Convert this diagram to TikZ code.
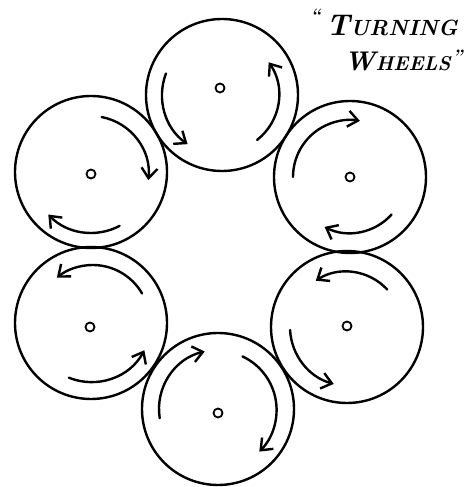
\documentclass[tikz,border=0pt]{standalone}
\usetikzlibrary{arrows.meta}
\begin{document}
\begin{tikzpicture}[x=1pt,y=1pt,
  wheel/.style={circle, draw, line width=2.4pt, minimum size=152pt, inner sep=0pt},
  hub/.style={circle, draw, line width=1.8pt, minimum size=9pt, inner sep=0pt},
  turn/.style={line width=2.4pt, line cap=round, -{Straight Barb[length=10pt,width=16pt,line width=2.4pt]}},
  lettering/.style={font=\bfseries\itshape, anchor=base west, inner sep=0pt}]
\useasboundingbox (0,0) rectangle (465,487);
% wheels
\node[wheel] (top) at (222,392) {};
\node[wheel] (ul)  at (91,315) {};
\node[wheel] (ur)  at (350,310) {};
\node[wheel] (ll)  at (91,164) {};
\node[wheel] (lr)  at (347,160) {};
\node[wheel] (bot) at (218,78) {};
% hubs
\node[hub] (htop) at (220,399) {};
\node[hub] (hul)  at (91,313) {};
\node[hub] (hur)  at (350,310) {};
\node[hub] (hll)  at (90,160) {};
\node[hub] (hlr)  at (347,161) {};
\node[hub] (hbot) at (218,74) {};
% rotation arrows
\draw[turn] ([shift={(159:60)}]top.center) arc[start angle=159, end angle=235, radius=60];
\draw[turn] ([shift={(-52:57)}]top.center) arc[start angle=-52, end angle=35, radius=57];
\draw[turn] ([shift={(180:57)}]ur.center) arc[start angle=180, end angle=80, radius=57];
\draw[turn] ([shift={(-42:56)}]ur.center) arc[start angle=-42, end angle=-117, radius=56];
\draw[turn] ([shift={(79:56)}]ul.center) arc[start angle=79, end angle=-6, radius=58];
\draw[turn] ([shift={(-62:61)}]ul.center) arc[start angle=-62, end angle=-136, radius=60];
\draw[turn] ([shift={(30:59)}]ll.center) arc[start angle=30, end angle=129, radius=57];
\draw[turn] ([shift={(-112:59)}]ll.center) arc[start angle=-112, end angle=-28, radius=60];
\draw[turn] ([shift={(43:55)}]lr.center) arc[start angle=43, end angle=123, radius=56];
\draw[turn] ([shift={(183:57)}]lr.center) arc[start angle=183, end angle=255, radius=59];
\draw[turn] ([shift={(189:59)}]bot.center) arc[start angle=189, end angle=103, radius=59];
\draw[turn] ([shift={(65:58)}]bot.center) arc[start angle=65, end angle=-45, radius=59];
% title
\node[lettering] (q1) at (310,465) {\fontsize{18}{18}\selectfont ``};
\node[lettering] (t1) at (326,451) {{\fontsize{30}{30}\selectfont T}{\fontsize{22}{22}\selectfont URNING}};
\node[lettering] (t2) at (344,416) {{\fontsize{27}{27}\selectfont W}{\fontsize{20}{20}\selectfont HEELS}};
\node[lettering] (q2) at (452,424) {\fontsize{18}{18}\selectfont ''};
\end{tikzpicture}
\end{document}
